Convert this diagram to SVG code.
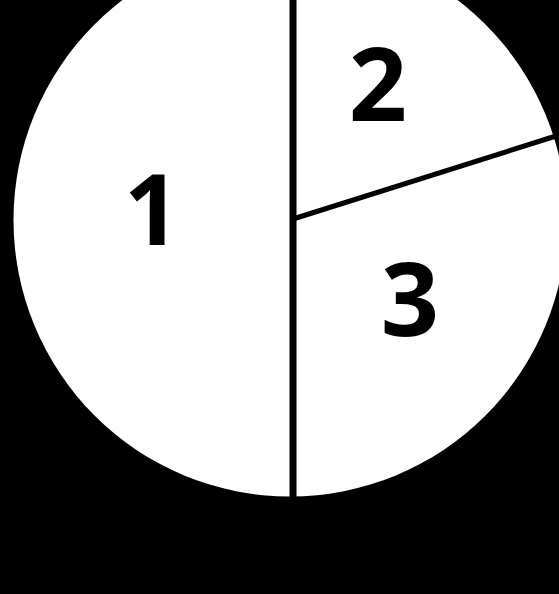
<svg xmlns="http://www.w3.org/2000/svg" width="559" height="594" viewBox="0 0 559 594">
<style>
.lbl{font-family:"Open Sans","Liberation Sans",sans-serif;font-weight:700;font-size:102px;fill:#000;text-anchor:middle}
.div{stroke:#000;fill:none}
</style>
<rect width="559" height="594" fill="#000"/>
<g id="pie">
<circle cx="290" cy="220" r="276.5" fill="#fff"/>
</g>
<g id="connectors">
<line class="div" x1="293" y1="0" x2="293" y2="497" stroke-width="7"/>
<line class="div" x1="293" y1="219" x2="556" y2="136" stroke-width="5"/>
</g>
<g id="n1"><text class="lbl" x="152" y="245" style="font-size:98px">1</text></g>
<g id="n2"><text class="lbl" x="378" y="121">2</text></g>
<g id="n3"><text class="lbl" x="410" y="336">3</text></g>
</svg>
